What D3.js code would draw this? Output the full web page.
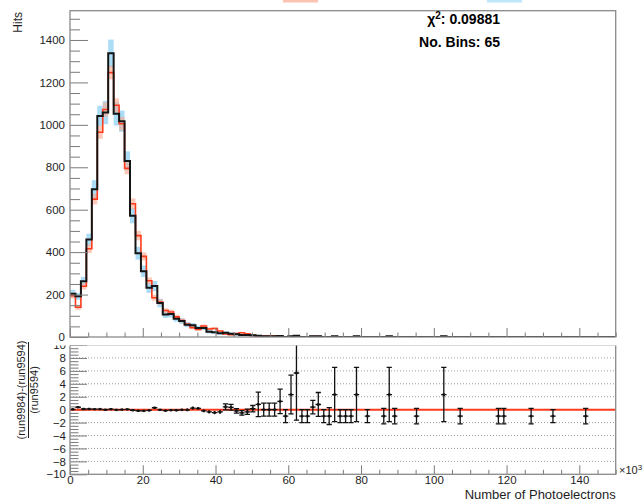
<!DOCTYPE html>
<html>
<head>
<meta charset="utf-8">
<script src="https://cdn.jsdelivr.net/npm/d3@7"></script>
<style>
  body { margin: 0; background: #fff; }
  svg { display: block; font-family: "Liberation Sans", Arial, Helvetica, sans-serif; }
</style>
</head>
<body>
<svg id="chart" width="643" height="503"></svg>
<script>
// Photoelectron spectra of two runs, 100 bins of 1.5 (x10^3 p.e.) from 0 to 150
const xRange = [0, 150];
const nBins = 100;

// run 9984 (black line, light-blue error band)
const run9984 = [
  204, 192, 263, 459, 697, 1042, 1058, 1337, 1052, 1017,
  830, 572, 395, 310, 232, 240, 160, 106, 108, 86,
  75, 58, 55, 43, 42, 25, 22, 18, 20, 15,
  13, 10, 10, 8, 6, 4, 4, 4, 5, 0,
  3.67, 6.0, 0, 0, 3.08, 3.96, 0, 0, 3.67, 0,
  0, 0, 3.67, 0, 0, 0, 0, 0, 3.67, 0,
  0, 0, 0, 0, 0, 0, 0, 0, 3.67, 0,
  0, 0, 0, 0, 0, 0, 0, 0, 0, 0,
  0, 0, 0, 0, 0, 0, 0, 0, 0, 0,
  0, 0, 0, 0, 0, 0, 0, 0, 0, 0
];
const run9984Err = [
  18, 16, 20, 28, 42, 48, 55, 65, 55, 50,
  45, 36, 30, 27, 24, 24, 20, 16, 16, 14,
  13, 12, 11, 10, 10, 8, 7, 7, 7, 6,
  6, 5, 5, 5, 4, 3, 3, 3, 4, 0,
  3, 4, 0, 0, 3, 3, 0, 0, 3, 0,
  0, 0, 3, 0, 0, 0, 0, 0, 3, 0,
  0, 0, 0, 0, 0, 0, 0, 0, 3, 0,
  0, 0, 0, 0, 0, 0, 0, 0, 0, 0,
  0, 0, 0, 0, 0, 0, 0, 0, 0, 0,
  0, 0, 0, 0, 0, 0, 0, 0, 0, 0
];

// run 9594 (red line, salmon error band)
const run9594 = [
  195, 140, 239, 416, 650, 965, 1072, 1246, 1092, 1005,
  795, 628, 478, 380, 265, 185, 165, 125, 118, 95,
  78, 60, 44, 36, 52, 38, 40, 28, 14, 11,
  16, 20, 15, 7, 3.3, 4, 4, 4, 2.2, 1.1,
  1.1, 0.9, 1.1, 1.1, 2.2, 2.2, 1.1, 1.1, 1.1, 1.1,
  1.1, 1.1, 1.1, 0, 1.1, 0, 0, 1.1, 1.1, 1.1,
  0, 0, 0, 1.1, 0, 0, 0, 0, 1.1, 0,
  0, 1.1, 0, 0, 0, 0, 0, 0, 1.1, 1.1,
  0, 0, 0, 0, 1.1, 0, 0, 0, 1.1, 0,
  0, 0, 0, 0, 1.1, 0, 0, 0, 0, 0
];
const run9594Err = [
  14, 12, 15, 20, 25, 31, 33, 32, 33, 32,
  28, 25, 22, 19, 16, 14, 13, 11, 11, 10,
  9, 8, 7, 6, 7, 6, 6, 5, 4, 3,
  4, 4, 4, 3, 2, 2, 2, 2, 1.5, 1,
  1, 1, 1, 1, 1.5, 1.5, 1, 1, 1, 1,
  1, 1, 1, 0, 1, 0, 0, 1, 1, 1,
  0, 0, 0, 1, 0, 0, 0, 0, 1, 0,
  0, 1, 0, 0, 0, 0, 0, 0, 1, 1,
  0, 0, 0, 0, 1, 0, 0, 0, 1, 0,
  0, 0, 0, 0, 1, 0, 0, 0, 0, 0
];

// uncertainty on (run9984 - run9594) / run9594 per bin
const ratioErr = [
  0.10, 0.12, 0.09, 0.07, 0.06, 0.05, 0.05, 0.05, 0.05, 0.05,
  0.05, 0.05, 0.07, 0.08, 0.09, 0.12, 0.11, 0.14, 0.14, 0.16,
  0.17, 0.20, 0.22, 0.22, 0.22, 0.25, 0.25, 0.30, 0.45, 0.45,
  0.35, 0.35, 0.40, 0.50, 1.90, 1.00, 1.00, 1.00, 1.90, 1.00,
  3.00, 7.30, 1.00, 1.00, 1.05, 1.85, 1.00, 1.30, 4.20, 1.00,
  1.00, 1.00, 4.20, 0, 1.00, 0, 0, 1.20, 4.20, 1.20,
  0, 0, 0, 1.20, 0, 0, 0, 0, 4.20, 0,
  0, 1.20, 0, 0, 0, 0, 0, 0, 1.20, 1.20,
  0, 0, 0, 0, 1.20, 0, 0, 0, 1.00, 0,
  0, 0, 0, 0, 1.20, 0, 0, 0, 0, 0
];

const xTicks = [0, 20, 40, 60, 80, 100, 120, 140];
const hitsTicks = [0, 200, 400, 600, 800, 1000, 1200, 1400];
const ratioTicks = [-10, -8, -6, -4, -2, 0, 2, 4, 6, 8, 10];
const chi2Text = "0.09881";
const nBinsText = "No. Bins: 65";

// ---------------------------------------------------------------
const svg = d3.select("#chart");
const frameCol = "#8a8a8a", tickCol = "#7a7a7a", textCol = "#1e1e1e";
const blueBand = "#8fd2f4", salmonBand = "#fca68c";
const redLine = "#ff3b1c", blackLine = "#151515";

const plotL = 70, plotR = 615.7;
const padTop = { t: 10.7, b: 337 };
const padBot = { t: 345, b: 474.3 };

const x = d3.scaleLinear().domain(xRange).range([plotL, plotR]);
const yTop = d3.scaleLinear().domain([0, 1538]).range([padTop.b, padTop.t]);
const yBot = d3.scaleLinear().domain([-10, 10]).range([padBot.b, padBot.t]);

const binW = (xRange[1] - xRange[0]) / nBins;
const lowEdge = i => xRange[0] + i * binW;

const defs = svg.append("defs");
defs.append("clipPath").attr("id", "clipBotPad")
  .append("rect").attr("x", 0).attr("y", 345.5).attr("width", 643).attr("height", 160);
defs.append("clipPath").attr("id", "clipBotFrame")
  .append("rect").attr("x", plotL).attr("y", padBot.t).attr("width", plotR - plotL).attr("height", padBot.b - padBot.t);
defs.append("clipPath").attr("id", "clipTopFrame")
  .append("rect").attr("x", plotL).attr("y", padTop.t).attr("width", plotR - plotL).attr("height", padTop.b - padTop.t);

// legend swatches peeking in at the top edge
const legendSwatches = [
  { fill: "#fdc3b1", x0: 283, x1: 318 },
  { fill: "#bfe6fa", x0: 487, x1: 522 }
];
svg.selectAll("rect.leg").data(legendSwatches).join("rect")
  .attr("class", "leg")
  .attr("x", d => d.x0).attr("y", -6).attr("width", d => d.x1 - d.x0).attr("height", 8.5)
  .attr("fill", d => d.fill);

// ---------------- upper pad: hit spectra ----------------
const gTop = svg.append("g");
const gHist = gTop.append("g").attr("clip-path", "url(#clipTopFrame)");

function bands(vals, errs, fill, opacity) {
  const data = vals.map((v, i) => ({ i, v, e: errs[i] })).filter(d => d.e > 0);
  gHist.append("g").selectAll("rect").data(data).join("rect")
    .attr("x", d => x(lowEdge(d.i)))
    .attr("width", d => x(lowEdge(d.i + 1)) - x(lowEdge(d.i)))
    .attr("y", d => yTop(d.v + d.e))
    .attr("height", d => yTop(Math.max(0, d.v - d.e)) - yTop(d.v + d.e))
    .attr("fill", fill).attr("fill-opacity", opacity);
}
bands(run9984, run9984Err, blueBand, 0.75);
bands(run9594, run9594Err, salmonBand, 0.6);

const step = d3.line().x(d => x(d[0])).y(d => yTop(d[1])).curve(d3.curveStepAfter);
function stepPoints(vals) {
  const pts = vals.map((v, i) => [lowEdge(i), v]);
  pts.push([lowEdge(nBins), vals[nBins - 1]]);
  return pts;
}
gHist.append("path").datum(stepPoints(run9594)).attr("d", step)
  .attr("fill", "none").attr("stroke", redLine).attr("stroke-width", 1.6);
gHist.append("path").datum(stepPoints(run9984)).attr("d", step)
  .attr("fill", "none").attr("stroke", blackLine).attr("stroke-width", 2);

// axes of upper pad (ticks point inward)
const minorHits = d3.range(0, 1538, 50).filter(v => v % 200 !== 0);
gTop.append("g").attr("transform", `translate(${plotL},0)`)
  .call(d3.axisLeft(yTop).tickValues(minorHits).tickSize(-10).tickFormat(""))
  .call(g => g.select(".domain").remove());
gTop.append("g").attr("transform", `translate(${plotL},0)`)
  .call(d3.axisLeft(yTop).tickValues(hitsTicks).tickSize(-18).tickPadding(5).tickFormat(d3.format("d")))
  .call(g => g.select(".domain").remove());

const minorX = d3.range(0, 151, 5).filter(v => v % 20 !== 0);
gTop.append("g").attr("transform", `translate(0,${padTop.b})`)
  .call(d3.axisBottom(x).tickValues(minorX).tickSize(-4.5).tickFormat(""))
  .call(g => g.select(".domain").remove());
gTop.append("g").attr("transform", `translate(0,${padTop.b})`)
  .call(d3.axisBottom(x).tickValues(xTicks).tickSize(-9).tickFormat(""))
  .call(g => g.select(".domain").remove());

gTop.append("rect").attr("x", plotL).attr("y", padTop.t)
  .attr("width", plotR - plotL).attr("height", padTop.b - padTop.t)
  .attr("fill", "none").attr("stroke", frameCol).attr("stroke-width", 1.3);

svg.append("text").attr("transform", "translate(22,12) rotate(-90)")
  .attr("text-anchor", "end").attr("font-size", 12).attr("fill", textCol).text("Hits");

const stats = svg.append("g").attr("font-weight", "bold").attr("font-size", 14)
  .attr("fill", "#000").attr("text-anchor", "end");
const chiT = stats.append("text").attr("x", 500).attr("y", 24);
chiT.append("tspan").text("\u03c7");
chiT.append("tspan").attr("font-size", 10).attr("dy", -5).text("2");
chiT.append("tspan").attr("dy", 5).text(": " + chi2Text);
stats.append("text").attr("x", 500).attr("y", 46.5).text(nBinsText);

// ---------------- lower pad: relative difference ----------------
const gBot = svg.append("g").attr("clip-path", "url(#clipBotPad)");

const gridVals = ratioTicks.filter(v => v !== 0 && Math.abs(v) < 10);
gBot.append("g").selectAll("line").data(gridVals).join("line")
  .attr("x1", plotL).attr("x2", plotR)
  .attr("y1", d => yBot(d)).attr("y2", d => yBot(d))
  .attr("stroke", "#9a9a9a").attr("stroke-width", 1).attr("stroke-dasharray", "1,2");

const minorR = d3.range(-10, 10.01, 0.5).filter(v => v % 2 !== 0);
gBot.append("g").attr("transform", `translate(${plotL},0)`)
  .call(d3.axisLeft(yBot).tickValues(minorR).tickSize(-8.5).tickFormat(""))
  .call(g => g.select(".domain").remove());
gBot.append("g").attr("transform", `translate(${plotL},0)`)
  .call(d3.axisLeft(yBot).tickValues(ratioTicks).tickSize(-17).tickPadding(4)
    .tickFormat(d => d < 0 ? "\u2212" + Math.abs(d) : String(d)))
  .call(g => g.select(".domain").remove());

gBot.append("g").attr("transform", `translate(0,${padBot.b})`)
  .call(d3.axisBottom(x).tickValues(minorX).tickSize(-4.5).tickFormat(""))
  .call(g => g.select(".domain").remove());
gBot.append("g").attr("transform", `translate(0,${padBot.b})`)
  .call(d3.axisBottom(x).tickValues(xTicks).tickSize(-9).tickPadding(2).tickFormat(d3.format("d")))
  .call(g => g.select(".domain").remove());

// reference line at zero
gBot.append("line").attr("x1", x(xRange[0])).attr("x2", x(xRange[1]))
  .attr("y1", yBot(0)).attr("y2", yBot(0))
  .attr("stroke", redLine).attr("stroke-width", 2);

// points: bins where run9594 has content
const ratioPts = run9594.map((r, i) => ({ i, r, b: run9984[i], e: ratioErr[i] }))
  .filter(d => d.r > 0)
  .map(d => ({ i: d.i, c: lowEdge(d.i) + binW / 2, v: (d.b - d.r) / d.r, e: d.e }));

const gPts = gBot.append("g").attr("clip-path", "url(#clipBotFrame)")
  .attr("stroke", "#111").attr("stroke-width", 1.3).attr("fill", "none");
const cap = 2.6;
ratioPts.forEach(d => {
  const cx = x(d.c), cy = yBot(d.v);
  const yHi = yBot(d.v + d.e), yLo = yBot(d.v - d.e);
  gPts.append("line").attr("x1", cx).attr("x2", cx).attr("y1", yHi).attr("y2", yLo);
  gPts.append("line").attr("x1", x(lowEdge(d.i))).attr("x2", x(lowEdge(d.i + 1))).attr("y1", cy).attr("y2", cy);
  if (yLo - yHi > 4) {
    gPts.append("line").attr("x1", cx - cap).attr("x2", cx + cap).attr("y1", yHi).attr("y2", yHi);
    gPts.append("line").attr("x1", cx - cap).attr("x2", cx + cap).attr("y1", yLo).attr("y2", yLo);
  }
  gPts.append("rect").attr("x", cx - 1.2).attr("y", cy - 1.2).attr("width", 2.4).attr("height", 2.4)
    .attr("fill", "#111").attr("stroke", "none");
});

gBot.append("rect").attr("x", plotL).attr("y", padBot.t)
  .attr("width", plotR - plotL).attr("height", padBot.b - padBot.t)
  .attr("fill", "none").attr("stroke", frameCol).attr("stroke-width", 1.3);

// shared tick styling
svg.selectAll(".tick line").attr("stroke", tickCol).attr("stroke-width", 1);
svg.selectAll(".tick text").attr("fill", textCol).attr("font-size", 11.5)
  .attr("font-family", "'Liberation Sans', Arial, Helvetica, sans-serif");

// ratio axis title as a fraction
const yT = svg.append("g").attr("transform", "translate(28.5,390) rotate(-90)")
  .attr("font-size", 11).attr("fill", textCol).attr("text-anchor", "middle");
yT.append("text").attr("x", 0).attr("y", -3.5).text("(run9984)-(run9594)");
yT.append("line").attr("x1", -48).attr("x2", 48).attr("y1", 0).attr("y2", 0)
  .attr("stroke", textCol).attr("stroke-width", 1);
yT.append("text").attr("x", 0).attr("y", 9.5).text("(run9594)");

// x axis title and exponent
svg.append("text").attr("x", plotR).attr("y", 498.5).attr("text-anchor", "end")
  .attr("font-size", 13).attr("fill", textCol).text("Number of Photoelectrons");
const ex = svg.append("text").attr("x", 619).attr("y", 474).attr("font-size", 11).attr("fill", textCol);
ex.append("tspan").text("\u00d710");
ex.append("tspan").attr("font-size", 8).attr("dy", -4).text("3");
</script>
</body>
</html>
